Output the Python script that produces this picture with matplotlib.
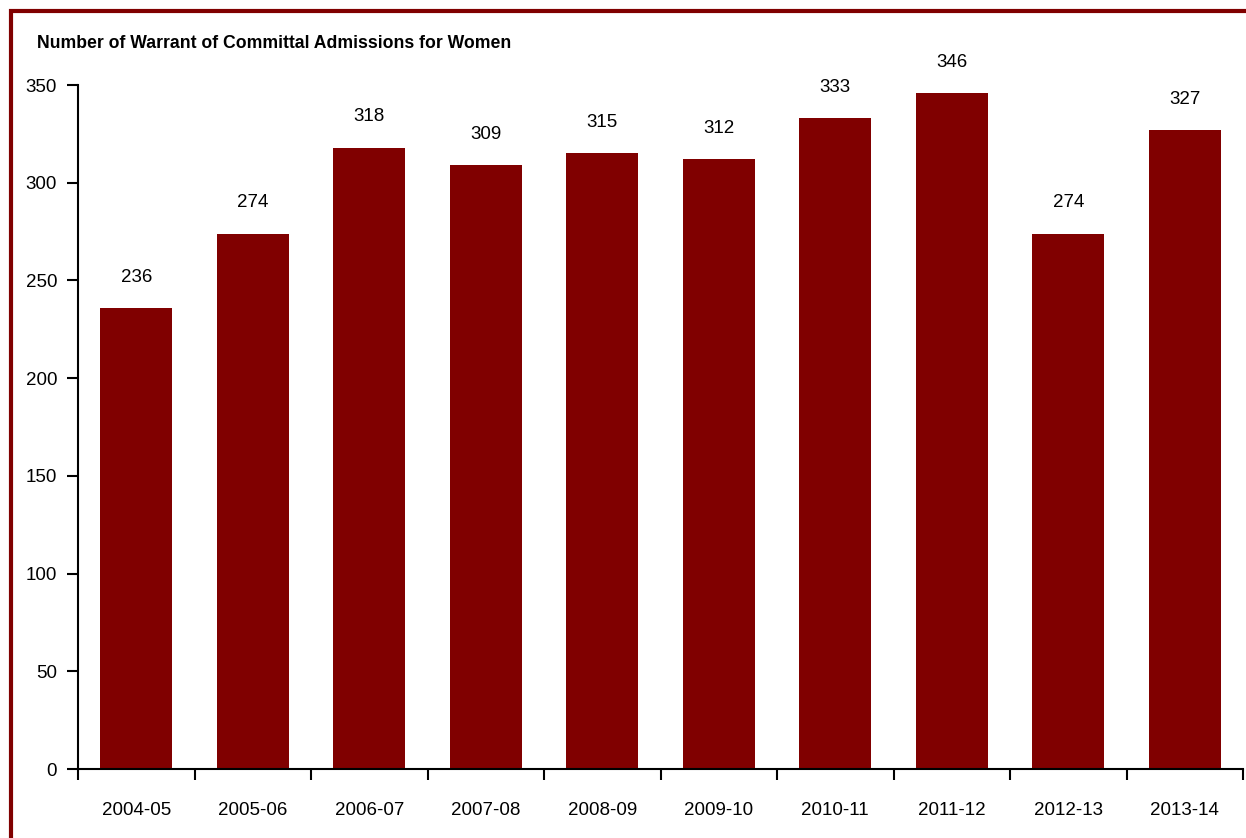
import matplotlib
matplotlib.use("Agg")
import matplotlib.pyplot as plt
from matplotlib.patches import Rectangle
import numpy as np

categories = ["2004-05", "2005-06", "2006-07", "2007-08", "2008-09",
              "2009-10", "2010-11", "2011-12", "2012-13", "2013-14"]
values = [236, 274, 318, 309, 315, 312, 333, 346, 274, 327]
yticks = [0, 50, 100, 150, 200, 250, 300, 350]
title = "Number of Warrant of Committal Admissions for Women"

plt.rcParams['font.family'] = ['Liberation Sans', 'DejaVu Sans']
W, H = 1246, 838
fig = plt.figure(figsize=(W/100, H/100), dpi=100)
ax = fig.add_axes([78/W, 1-769/H, (1243-78)/W, (769-85)/H])

fs = 13.5
color = "#800000"
x = np.arange(len(categories))
ax.bar(x, values, width=0.62, color=color, zorder=2)
for xi, v in zip(x, values):
    ax.annotate(str(v), (xi, v), xytext=(0, 16), textcoords="offset points",
                ha="center", va="bottom", fontsize=fs)

ax.set_xlim(-0.5, len(categories)-0.5)
ax.set_ylim(0, 350)
ax.set_yticks(yticks)
ax.set_yticklabels([str(t) for t in yticks], fontsize=fs)
ax.set_xticks(np.arange(len(categories)+1) - 0.5)
ax.set_xticklabels([])
ax.set_xticks(x, minor=True)
ax.set_xticklabels(categories, minor=True, fontsize=fs)
ax.tick_params(axis='x', which='minor', length=0, pad=24)
ax.tick_params(axis='x', which='major', length=8, width=1.5, direction='out')
ax.tick_params(axis='y', length=8, width=1.5, direction='out', pad=7)
for s in ["top", "right"]:
    ax.spines[s].set_visible(False)
for s in ["left", "bottom"]:
    ax.spines[s].set_linewidth(1.5)

fig.text(37/W, 1-44/H, title, fontsize=12.7, fontweight="bold", ha="left", va="center")

border = Rectangle((11/W, -0.1), 1.2, 1 - 11/H + 0.1, transform=fig.transFigure,
                   fill=False, edgecolor=color, linewidth=3, clip_on=False)
fig.patches.append(border)

fig.savefig("out.png", dpi=100)
